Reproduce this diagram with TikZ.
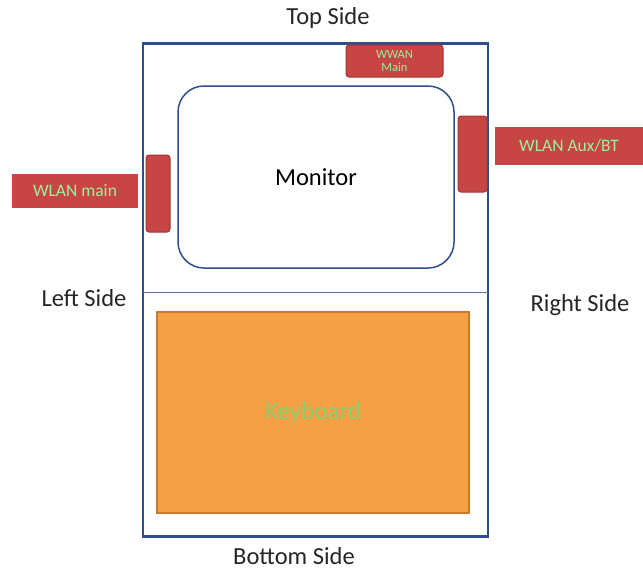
\documentclass[tikz,border=0pt]{standalone}
\usepackage{fontspec}
\setmainfont{Carlito}
\definecolor{frameblue}{HTML}{2F4C8C}
\definecolor{antred}{HTML}{C84545}
\definecolor{antredd}{HTML}{A83434}
\definecolor{labgreen}{HTML}{9BF09B}
\definecolor{kbfill}{HTML}{F6A045}
\definecolor{kbdraw}{HTML}{C97B2B}
\definecolor{kbtext}{HTML}{8ACB6A}
\begin{document}
\begin{tikzpicture}[x=1pt,y=-1pt,
  box/.style={inner sep=0pt, outer sep=0pt, anchor=center},
  side/.style={box, font=\fontsize{24.5}{26}\selectfont, text=black!85},
  ant/.style={box, fill=antred, draw=antredd, line width=1pt, rounded corners=3pt},
  antlabel/.style={box, fill=antred, text=labgreen, font=\fontsize{17.5}{19}\selectfont}]
\useasboundingbox (0,0) rectangle (643,571);
% outer frame
\node[box, draw=frameblue, line width=2.5pt, minimum width=345pt, minimum height=493pt] (frame) at (315.5,290) {};
% divider
\coordinate (dl) at (143,292);
\coordinate (dr) at (488,292);
\draw[frameblue!80, line width=0.6pt] (dl) -- (dr);
% monitor
\node[box, draw=frameblue, line width=1.5pt, rounded corners=26pt, minimum width=276pt, minimum height=182pt, font=\fontsize{24.5}{26}\selectfont] (monitor) at (316,177) {Monitor};
% keyboard
\node[box, fill=kbfill, draw=kbdraw, line width=2pt, minimum width=312pt, minimum height=201pt, text=kbtext, font=\fontsize{25}{27}\selectfont] (keyboard) at (313,412.5) {Keyboard};
% antennas
\node[ant, minimum width=97pt, minimum height=32pt, align=center, text=labgreen, font=\fontsize{12.5}{13}\selectfont] (wwan) at (394.5,61) {WWAN\\Main};
\node[ant, minimum width=29pt, minimum height=76pt] (antR) at (472.5,154) {};
\node[ant, minimum width=24pt, minimum height=77pt] (antL) at (158,193.5) {};
\node[antlabel, minimum width=148pt, minimum height=38pt] (auxlab) at (569,146) {WLAN Aux/BT};
\node[antlabel, minimum width=126pt, minimum height=34pt] (mainlab) at (75,191) {WLAN main};
% side labels
\node[side] (top) at (328,18) {Top Side};
\node[side] (left) at (84,298) {Left Side};
\node[side] (right) at (580,305) {Right Side};
\node[side] (bottom) at (294,556) {Bottom Side};
\end{tikzpicture}
\end{document}
